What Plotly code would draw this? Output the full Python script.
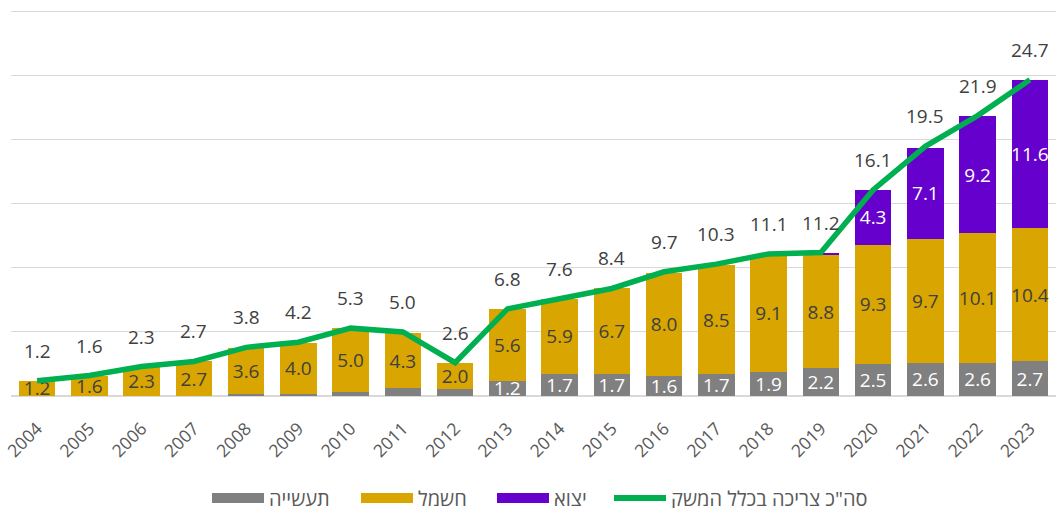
import plotly.graph_objects as go

years = list(range(2004, 2024))
industry = [0, 0, 0, 0, 0.15, 0.15, 0.3, 0.6, 0.55, 1.2, 1.7, 1.7, 1.6, 1.7, 1.9, 2.2, 2.5, 2.6, 2.6, 2.7]
electricity = [1.2, 1.6, 2.3, 2.7, 3.6, 4.0, 5.0, 4.3, 2.0, 5.6, 5.9, 6.7, 8.0, 8.5, 9.1, 8.8, 9.3, 9.7, 10.1, 10.4]
export = [0, 0, 0, 0, 0, 0, 0, 0, 0, 0, 0, 0, 0, 0, 0, 0.2, 4.3, 7.1, 9.2, 11.6]
total = [1.2, 1.6, 2.3, 2.7, 3.8, 4.2, 5.3, 5.0, 2.6, 6.8, 7.6, 8.4, 9.7, 10.3, 11.1, 11.2, 16.1, 19.5, 21.9, 24.7]

names = ["תעשייה", "חשמל", "יצוא", 'סה"כ צריכה בכלל המשק']
GRAY, GOLD, PURPLE, GREEN = "#808080", "#D9A500", "#6600CC", "#00B050"
FONT = "Open Sans, DejaVu Sans, sans-serif"
LABEL = "#404040"
W, H = 1064, 508

def lbl(vals, minv):
    return [f"{v:.1f}" if v >= minv else "" for v in vals]

fig = go.Figure()
for vals, col, nm, tc in [(industry, GRAY, names[0], "white"),
                          (electricity, GOLD, names[1], LABEL),
                          (export, PURPLE, names[2], "white")]:
    fig.add_bar(x=years, y=vals, marker_color=col, marker_line_width=0, name=nm, showlegend=False,
                text=lbl(vals, 1.0), textposition="inside", insidetextanchor="middle",
                textangle=0, constraintext="none",
                textfont=dict(color=tc, size=19, family=FONT))
fig.add_scatter(x=years, y=total, mode="lines", line=dict(color=GREEN, width=5.5),
                name=names[3], showlegend=False)

# legend entries, each in its own legend so spacing matches
leg_specs = [(names[0], GRAY, 12, 207), (names[1], GOLD, 12, 356),
             (names[2], PURPLE, 12, 492), (names[3], GREEN, 6, 609)]
for i, (nm, col, w, px) in enumerate(leg_specs):
    key = "legend" if i == 0 else f"legend{i + 1}"
    fig.add_scatter(x=[years[0]], y=[None], mode="lines", line=dict(color=col, width=w),
                    name=nm, legend=key)
    fig.update_layout({key: dict(orientation="h", xref="container", yref="container",
                                 x=px / W, xanchor="left", y=(H - 498) / H, yanchor="middle",
                                 font=dict(size=20, color="#595959", family=FONT),
                                 itemwidth=52, bgcolor="rgba(0,0,0,0)")})

for x, t in zip(years, total):
    fig.add_annotation(x=x, y=t, text=f"{t:.1f}", showarrow=False, yshift=30,
                       font=dict(size=19, color=LABEL, family=FONT))

fig.update_layout(
    width=W, height=H,
    margin=dict(l=11, r=8, t=10, b=112),
    barmode="stack", bargap=0.3,
    plot_bgcolor="white", paper_bgcolor="white",
    font=dict(family=FONT, color="#595959"),
)
fig.update_xaxes(type="linear", range=[years[0] - 0.5, years[-1] + 0.5], tickmode="array",
                 tickvals=years, ticktext=[str(y) for y in years],
                 tickangle=-45, tickfont=dict(size=17.5, color="#595959"), ticklabelstandoff=18,
                 showgrid=False, ticks="", showline=False, zeroline=False, automargin=False)
fig.update_yaxes(range=[0, 30.15], tickvals=[0, 5, 10, 15, 20, 25, 30], showticklabels=False,
                 gridcolor="#D9D9D9", gridwidth=1, zeroline=True, zerolinecolor="#D9D9D9",
                 zerolinewidth=1.5, automargin=False)

fig.write_html("out.html", config={"displayModeBar": False},
               post_script="document.body.style.margin='0px';")
